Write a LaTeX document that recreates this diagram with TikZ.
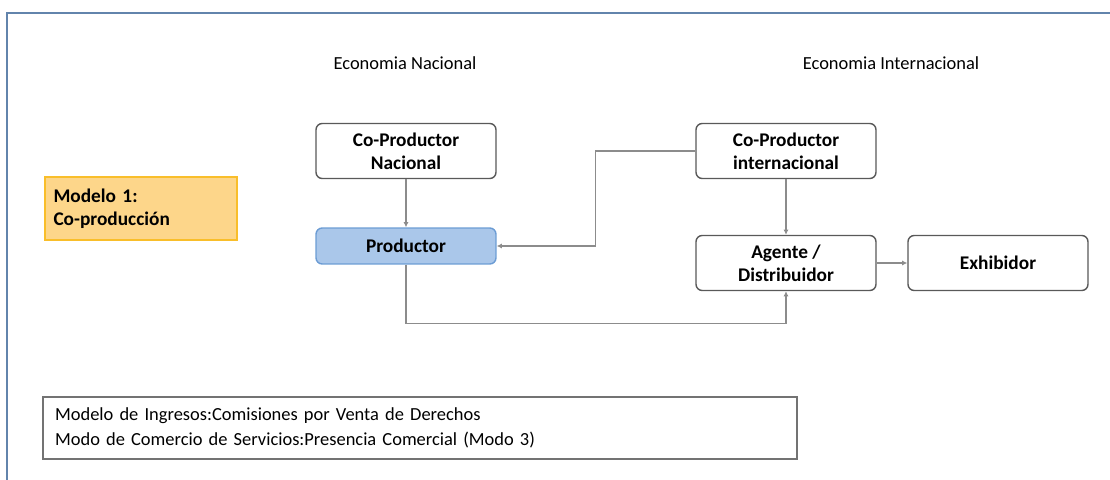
\documentclass[tikz,border=0pt]{standalone}
\usepackage{fontspec}
\setmainfont{Carlito}
\usetikzlibrary{arrows.meta}

\definecolor{framecol}{RGB}{98,132,172}
\definecolor{prodfill}{RGB}{170,199,234}
\definecolor{proddraw}{RGB}{108,156,212}
\definecolor{modfill}{RGB}{253,214,138}
\definecolor{moddraw}{RGB}{249,190,42}
\definecolor{linkcol}{RGB}{140,140,140}

\begin{document}
\begin{tikzpicture}[x=0.02cm,y=-0.02cm,
  actor/.style={rectangle,rounded corners=3.5pt,draw=black!65,line width=0.8pt,fill=white,minimum width=3.6cm,minimum height=1.1cm,inner sep=0pt,align=center,font=\fontsize{11}{13}\selectfont\bfseries},
  producer/.style={actor,fill=prodfill,draw=proddraw,minimum height=0.72cm},
  heading/.style={font=\fontsize{10.5}{12}\selectfont},
  link/.style={draw=linkcol,line width=0.8pt,-{Latex[length=3pt,width=3pt]}}]
\useasboundingbox (0,0) rectangle (1110,480);
\draw[framecol,line width=1.6pt] (7,480) -- (7,13) -- (1110,13);
\node[heading] (nac) at (405,63) {Economia Nacional};
\node[heading] (int) at (891,63) {Economia Internacional};
\coordinate (A) at (406,151);
\coordinate (B) at (406,246);
\coordinate (C) at (786,151);
\coordinate (D) at (786,263);
\coordinate (E) at (998,263);
\node[actor] (cpn) at (A) {Co-Productor\\Nacional};
\node[producer] (prod) at (B) {Productor};
\node[actor] (cpi) at (C) {Co-Productor\\internacional};
\node[actor] (agente) at (D) {Agente /\\Distribuidor};
\node[actor] (exhib) at (E) {Exhibidor};
\node[rectangle,draw=moddraw,line width=1pt,fill=modfill,minimum width=3.84cm,minimum height=1.26cm,text width=3.5cm,align=left,font=\fontsize{11}{13}\selectfont\bfseries] (modelo) at (141,208.5) {Modelo 1:\\Co-producción};
\node[rectangle,draw=black!55,line width=0.8pt,minimum width=15.08cm,minimum height=1.24cm,text width=14.6cm,align=left,font=\fontsize{10.5}{14}\selectfont] (ingresos) at (420,428) {Modelo de Ingresos:Comisiones por Venta de Derechos\\Modo de Comercio de Servicios:Presencia Comercial (Modo 3)};
\draw[link] (cpn) -- (prod);
\draw[link] (cpi.west) -- ++(-100,0) |- (prod.east);
\draw[link] (cpi) -- (agente);
\draw[link] (prod.south) -- ++(0,59) -| (agente.south);
\draw[link] (agente) -- (exhib);
\end{tikzpicture}
\end{document}
